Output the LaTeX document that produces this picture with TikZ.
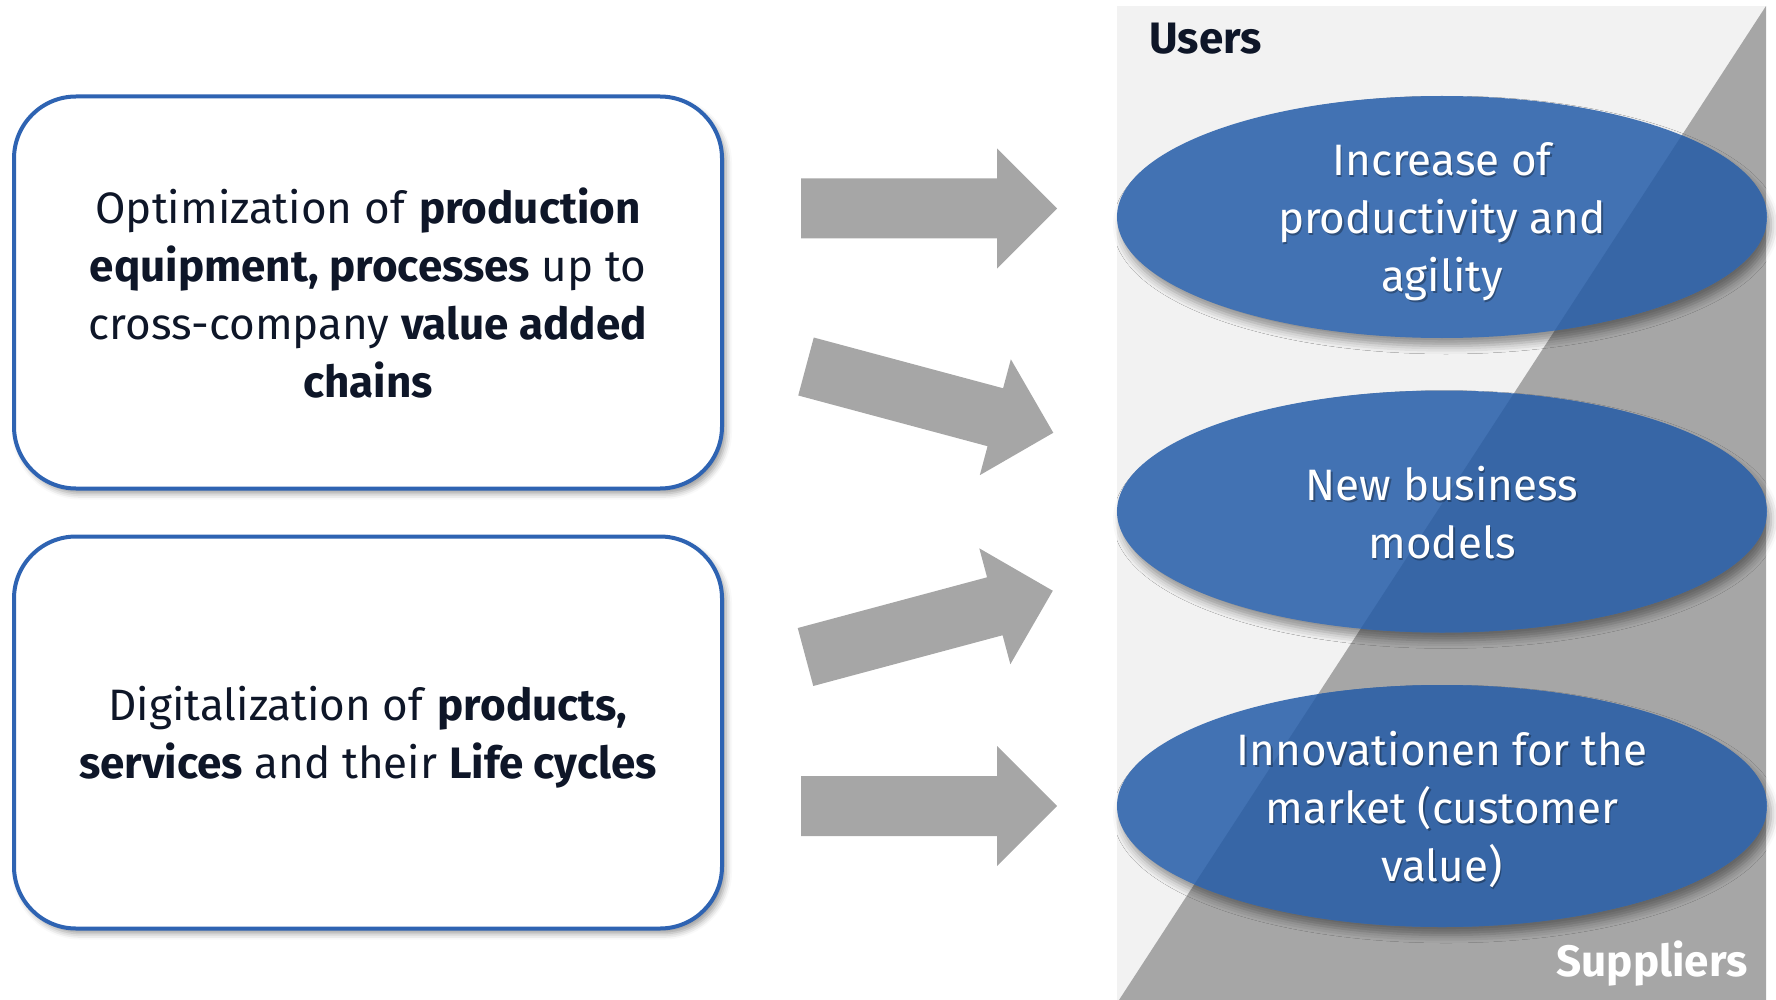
\documentclass[tikz,border=0pt]{standalone}
\usepackage{fontspec}
\setmainfont{Fira Sans}
\usetikzlibrary{shapes.geometric,shadows.blur}
\definecolor{panelgray}{RGB}{242,242,242}
\definecolor{darkpanel}{RGB}{166,166,166}
\definecolor{arrowgray}{RGB}{166,166,166}
\definecolor{boxblue}{RGB}{46,99,178}
\definecolor{ellA}{RGB}{66,114,179}
\definecolor{ellB}{RGB}{55,102,166}
\definecolor{txtdark}{RGB}{14,22,40}
\tikzset{
  leftbox/.style={draw=boxblue, line width=2pt, fill=white, rounded corners=31pt,
    minimum width=354pt, minimum height=196pt, inner sep=0pt,
    blur shadow={shadow xshift=2pt, shadow yshift=-2.5pt, shadow blur radius=3pt, shadow opacity=40}},
  boxtext/.style={align=center, text=txtdark, font=\fontsize{22}{29}\selectfont},
  ellshape/.style={ellipse, fill=ellA, minimum width=325pt, minimum height=121pt, inner sep=0pt,
    blur shadow={shadow xshift=2pt, shadow yshift=-4pt, shadow blur radius=4pt, shadow opacity=40}},
  elltext/.style={align=center, text=white, font=\fontsize{22}{29}\selectfont},
  elltextshadow/.style={align=center, text=black, opacity=0.3, font=\fontsize{22}{29}\selectfont},
  blockarrow/.style={fill=arrowgray},
  paneltitle/.style={font=\bfseries\fontsize{22}{26}\selectfont, inner sep=0pt}
}
\begin{document}
\begin{tikzpicture}[x=0.5pt,y=-0.5pt]
\useasboundingbox (0,0) rectangle (1776,1000);
% background panel
\fill[panelgray] (1117,6) rectangle (1766,1000);
\coordinate (dtop) at (1766,6);
\coordinate (dbot) at (1119,1000);
\fill[darkpanel] (dtop) -- (1766,1000) -- (dbot) -- cycle;

% left boxes
\node[leftbox] (opt) at (368,292.5) {};
\node[boxtext] (optt) at ([yshift=-0.3pt]opt.center) {Optimization of \textbf{production}\\\textbf{equipment, processes} up to\\cross-company \textbf{value added}\\\textbf{chains}};
\node[leftbox] (dig) at (368,732.5) {};
\node[boxtext] (digt) at ([yshift=-2.2pt]dig.center) {Digitalization of \textbf{products,}\\\textbf{services} and their \textbf{Life cycles}};

% block arrows
\fill[blockarrow, shift={(801,208.5)}] (0,-30) -- (196,-30) -- (196,-60) -- (256,0) -- (196,60) -- (196,30) -- (0,30) -- cycle;
\fill[blockarrow, shift={(806,366.5)}, rotate=-15] (0,-30) -- (196,-30) -- (196,-60) -- (256,0) -- (196,60) -- (196,30) -- (0,30) -- cycle;
\fill[blockarrow, shift={(805.5,657)}, rotate=15] (0,-30) -- (196,-30) -- (196,-60) -- (256,0) -- (196,60) -- (196,30) -- (0,30) -- cycle;
\fill[blockarrow, shift={(801,806)}] (0,-30) -- (196,-30) -- (196,-60) -- (256,0) -- (196,60) -- (196,30) -- (0,30) -- cycle;

% ellipses
\node[ellshape] (e1) at (1442,217) {};
\node[ellshape] (e2) at (1442,511.5) {};
\node[ellshape] (e3) at (1442,806) {};
\begin{scope}
  \clip (dtop) -- (1766,1000) -- (dbot) -- cycle;
  \fill[ellB] (e1.center) ellipse [x radius=162.5pt, y radius=60.5pt];
  \fill[ellB] (e2.center) ellipse [x radius=162.5pt, y radius=60.5pt];
  \fill[ellB] (e3.center) ellipse [x radius=162.5pt, y radius=60.5pt];
\end{scope}
\node[elltextshadow] at ([xshift=0.7pt,yshift=-3.1pt]e1.center) {Increase of\\productivity and\\agility};
\node[elltext] (t1) at ([yshift=-2.2pt]e1.center) {Increase of\\productivity and\\agility};
\node[elltextshadow] at ([xshift=0.7pt,yshift=-1.4pt]e2.center) {New business\\models};
\node[elltext] (t2) at ([yshift=-0.5pt]e2.center) {New business\\models};
\node[elltextshadow] at ([xshift=0.7pt,yshift=-2.6pt]e3.center) {Innovationen for the\\market (customer\\value)};
\node[elltext] (t3) at ([yshift=-1.7pt]e3.center) {Innovationen for the\\market (customer\\value)};

% panel titles
\node[paneltitle, text=txtdark, anchor=base west] (users) at (1149,54) {Users};
\node[paneltitle, text=white, anchor=base east] (suppliers) at (1748,976) {Suppliers};
\end{tikzpicture}
\end{document}
